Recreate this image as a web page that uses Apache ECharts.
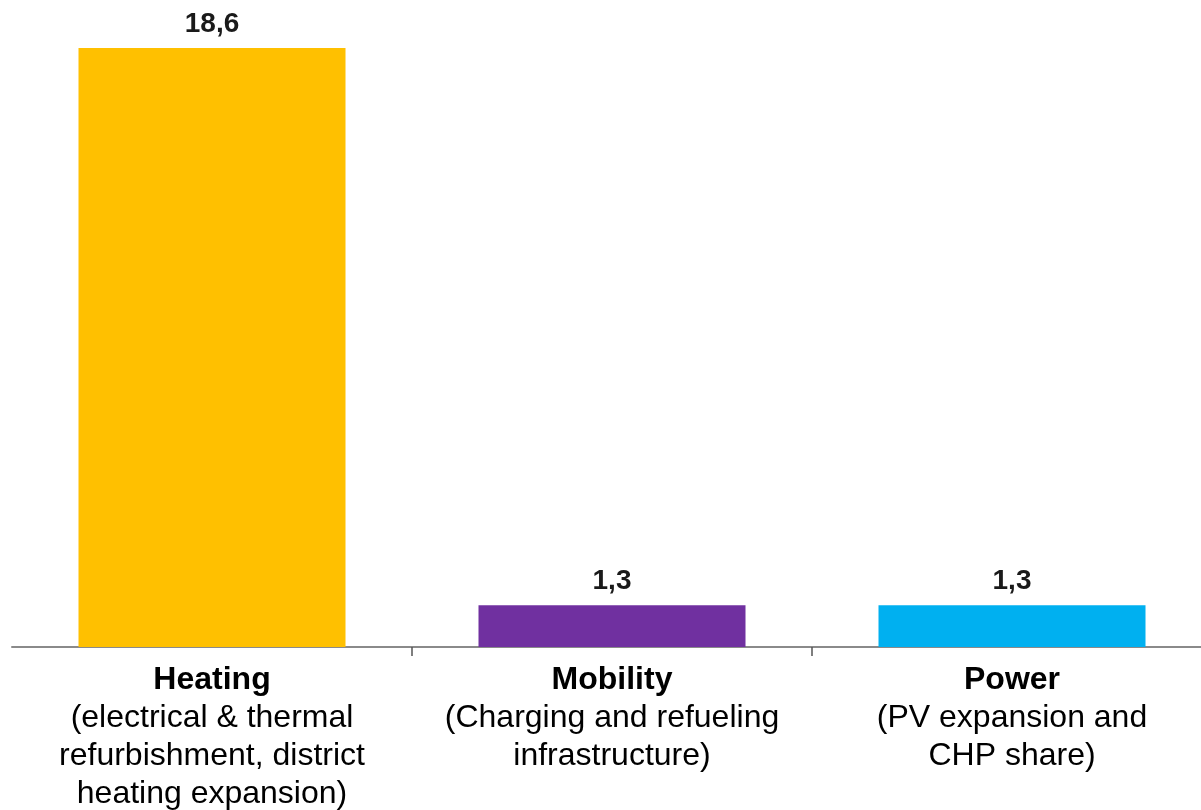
<!DOCTYPE html>
<html>
<head>
<meta charset="utf-8">
<script src="https://cdn.jsdelivr.net/npm/echarts@6/dist/echarts.min.js"></script>
<style>
  html, body { margin: 0; padding: 0; background: #fff; }
  #chart { width: 1201px; height: 810px; }
</style>
</head>
<body>
<div id="chart"></div>
<script>
const categories = ['Heating', 'Mobility', 'Power'];
const subLabels = [
    ['(electrical & thermal', 'refurbishment, district', 'heating expansion)'],
    ['(Charging and refueling', 'infrastructure)'],
    ['(PV expansion and', 'CHP share)']
];
const values = [18.6, 1.3, 1.3];
const barColors = ['#FFC000', '#7030A0', '#00B0F0'];
// separators between the categories (band boundaries)
const tickPositions = [1, 2];

const chart = echarts.init(document.getElementById('chart'));

const option = {
    animation: false,
    grid: {
        left: 12,
        width: 1200,
        top: 3,
        bottom: 163,
        outerBoundsMode: 'none',
        containLabel: false
    },
    xAxis: [{
        type: 'category',
        data: categories,
        axisLine: {
            lineStyle: { color: '#8a8a8a', width: 2 }
        },
        axisTick: { show: false },
        axisLabel: {
            margin: 14,
            interval: 0,
            formatter: function (value, index) {
                const lines = ['{b|' + value + '}'];
                subLabels[index].forEach(function (s) {
                    lines.push('{s|' + s + '}');
                });
                return lines.join('\n');
            },
            rich: {
                b: {
                    fontFamily: 'Liberation Sans',
                    fontSize: 32,
                    fontWeight: 'bold',
                    color: '#000',
                    lineHeight: 38
                },
                s: {
                    fontFamily: 'Liberation Sans',
                    fontSize: 32,
                    color: '#000',
                    lineHeight: 38
                }
            }
        }
    }, {
        type: 'value',
        position: 'bottom',
        min: 0,
        max: categories.length,
        axisLine: { show: false },
        splitLine: { show: false },
        axisLabel: { show: false },
        axisTick: {
            show: true,
            length: 9,
            customValues: tickPositions,
            lineStyle: { color: '#555', width: 1.5 }
        }
    }],
    yAxis: {
        type: 'value',
        min: 0,
        max: 20,
        show: false,
        splitLine: { show: false }
    },
    series: [{
        type: 'bar',
        barWidth: 267,
        barGap: '-100%',
        data: values.map(function (v, i) {
            return { value: v, itemStyle: { color: barColors[i] } };
        }),
        label: {
            show: true,
            position: 'top',
            distance: 10,
            fontFamily: 'Liberation Sans',
            fontSize: 28,
            fontWeight: 'bold',
            color: '#1a1a1a',
            formatter: function (p) {
                return String(p.value).replace('.', ',');
            }
        }
    }]
};

option && chart.setOption(option);
</script>
</body>
</html>
